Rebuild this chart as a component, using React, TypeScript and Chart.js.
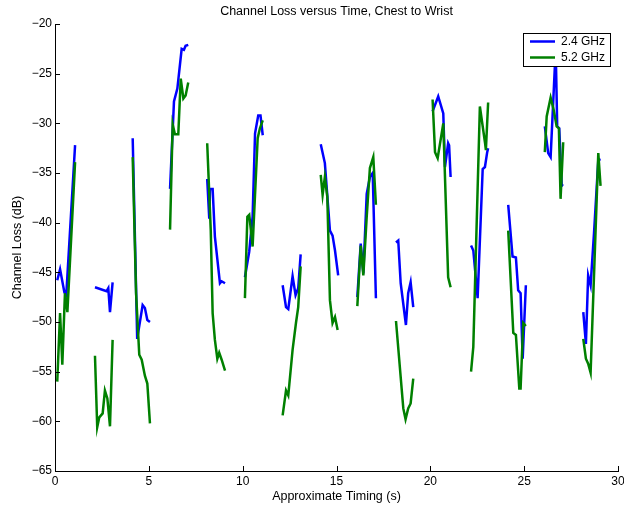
import React, { useEffect, useRef } from "react";
import { Chart, registerables } from "chart.js";

Chart.register(...registerables);

const chartTitle = "Channel Loss versus Time, Chest to Wrist";
const xLabel = "Approximate Timing (s)";
const yLabel = "Channel Loss (dB)";
const seriesNames = ["2.4 GHz", "5.2 GHz"];
const seriesColors = ["#0000ff", "#008000"];

const xTickValues = [0, 5, 10, 15, 20, 25, 30];
const yTickValues = [-65, -60, -55, -50, -45, -40, -35, -30, -25, -20];

// 2.4 GHz bursts (null separates measurement bursts)
const time24 = [
  0.12, 0.27, 0.5, 0.6, 1.07, null,
  2.13, 2.75, 2.84, 2.93, 3.07, null,
  4.14, 4.38, 4.67, 4.79, 4.92, 5.06, null,
  6.13, 6.34, 6.52, 6.75, 6.87, 6.96, 7.1, null,
  8.11, 8.22, 8.26, 8.4, 8.52, 8.79, 8.88, 9.06, null,
  10.12, 10.35, 10.53, 10.66, 10.83, 10.95, 11.07, null,
  12.13, 12.31, 12.43, 12.66, 12.82, 12.96, 13.09, null,
  14.16, 14.38, 14.65, 14.79, 14.92, 15.09, null,
  16.11, 16.29, 16.43, 16.61, 16.78, 16.93, 17.1, null,
  18.17, 18.29, 18.42, 18.7, 18.82, 18.95, 19.09, null,
  20.12, 20.42, 20.69, 20.78, 20.95, 21.0, 21.08, null,
  22.17, 22.29, 22.52, 22.79, 22.91, 23.03, 23.08, null,
  24.15, 24.38, 24.56, 24.68, 24.81, 24.92, 25.09, null,
  26.1, 26.28, 26.41, 26.68, 26.76, 26.87, 27.0, 27.08, null,
  28.15, 28.29, 28.41, 28.54, 28.72, 28.95, 29.07,
];
const loss24 = [
  -45.8, -44.7, -47.0, -47.3, -32.2, null,
  -46.5, -46.9, -46.6, -49.0, -46.0, null,
  -31.5, -51.7, -48.3, -48.6, -49.8, -50.0, null,
  -36.6, -27.8, -26.5, -22.5, -22.6, -22.2, -22.1, null,
  -35.6, -39.6, -36.6, -36.6, -41.4, -46.1, -45.9, -46.1, null,
  -45.5, -42.9, -39.4, -31.0, -29.2, -29.2, -31.2, null,
  -46.3, -48.5, -48.7, -45.4, -47.3, -46.6, -43.2, null,
  -32.1, -34.0, -40.8, -41.3, -42.8, -45.3, null,
  -47.5, -42.1, -45.1, -37.1, -35.4, -35.0, -47.6, null,
  -42.0, -41.8, -46.1, -50.3, -47.1, -46.0, -48.5, null,
  -28.8, -27.3, -29.0, -34.4, -32.0, -32.2, -35.4, null,
  -42.3, -42.8, -47.6, -34.6, -34.4, -32.9, -32.5, null,
  -38.2, -43.4, -43.5, -46.8, -47.1, -53.7, -46.3, null,
  -30.3, -33.0, -33.4, -22.5, -30.3, -30.5, -36.2, -36.3, null,
  -49.0, -52.2, -45.3, -46.3, -41.1, -33.7, -33.6,
];

// 5.2 GHz bursts
const time52 = [
  0.12, 0.27, 0.39, 0.53, 0.66, 1.07, null,
  2.13, 2.25, 2.36, 2.54, 2.66, 2.79, 2.93, 3.07, null,
  4.14, 4.32, 4.49, 4.62, 4.79, 4.92, 5.06, null,
  6.13, 6.27, 6.39, 6.57, 6.7, 6.84, 6.96, 7.1, null,
  8.11, 8.3, 8.4, 8.52, 8.65, 8.75, 8.88, 9.06, null,
  10.12, 10.25, 10.35, 10.53, 10.8, 10.92, 11.07, null,
  12.13, 12.31, 12.43, 12.66, 12.84, 12.96, 13.09, null,
  14.16, 14.26, 14.38, 14.51, 14.65, 14.79, 14.92, 15.06, null,
  16.11, 16.29, 16.43, 16.61, 16.78, 16.96, 17.1, null,
  18.17, 18.56, 18.68, 18.82, 18.95, 19.09, null,
  20.12, 20.25, 20.39, 20.69, 20.95, 21.08, null,
  22.17, 22.29, 22.64, 22.91, 22.96, 23.08, null,
  24.15, 24.42, 24.56, 24.74, 24.81, 24.95, 25.09, null,
  26.1, 26.2, 26.41, 26.58, 26.73, 26.85, 26.94, 27.08, null,
  28.15, 28.29, 28.41, 28.54, 28.95, 29.07,
];
const loss52 = [
  -56.0, -49.1, -54.3, -47.1, -49.0, -33.9, null,
  -53.4, -60.6, -59.6, -59.2, -56.9, -57.7, -60.5, -51.8, null,
  -33.4, -47.1, -53.3, -53.8, -55.4, -56.2, -60.2, null,
  -40.7, -30.1, -31.1, -31.1, -25.5, -27.5, -27.2, -25.9, null,
  -32.0, -40.8, -49.1, -51.8, -53.7, -53.1, -53.8, -54.9, null,
  -47.6, -39.4, -39.2, -42.4, -31.5, -30.5, -29.7, null,
  -59.4, -56.9, -57.4, -52.8, -50.1, -48.5, -44.4, null,
  -35.2, -37.2, -35.4, -37.4, -47.8, -50.1, -49.5, -50.8, null,
  -48.4, -42.3, -45.3, -39.4, -34.5, -33.4, -38.2, null,
  -49.9, -58.7, -59.8, -58.7, -58.2, -55.7, null,
  -27.6, -32.9, -33.5, -30.0, -45.5, -46.5, null,
  -55.0, -52.5, -28.3, -31.9, -32.7, -27.9, null,
  -40.8, -51.1, -51.3, -56.7, -56.7, -50.1, -50.4, null,
  -32.9, -29.3, -27.4, -28.7, -30.3, -30.5, -37.6, -31.9, null,
  -51.7, -53.7, -54.2, -55.1, -33.0, -36.3,
];

const FONT = "'Liberation Sans', Arial, Helvetica, sans-serif";

function toPoints(ts: (number | null)[], vs: (number | null)[]) {
  return ts.map((t, i) =>
    t === null ? { x: ts[i - 1] as number, y: null } : { x: t, y: vs[i] }
  );
}

const minusFmt = (v: number) => (v < 0 ? "\u2212" + Math.abs(v) : String(v));

const axesTitle = {
  id: "axesTitle",
  afterDraw(chart: any) {
    const { ctx, chartArea } = chart;
    ctx.save();
    ctx.font = `12.5px ${FONT}`;
    ctx.fillStyle = "#000";
    ctx.textAlign = "center";
    ctx.textBaseline = "middle";
    ctx.fillText(chartTitle, (chartArea.left + chartArea.right) / 2, chartArea.top - 12);
    ctx.restore();
  },
};

const inwardTicks = {
  id: "inwardTicks",
  afterDraw(chart: any) {
    const { ctx, chartArea, scales } = chart;
    ctx.save();
    ctx.strokeStyle = "#000";
    ctx.lineWidth = 1;
    ctx.beginPath();
    for (const t of scales.x.ticks) {
      const px = Math.round(scales.x.getPixelForValue(t.value)) + 0.5;
      ctx.moveTo(px, chartArea.bottom);
      ctx.lineTo(px, chartArea.bottom - 5);
    }
    for (const t of scales.y.ticks) {
      const py = Math.round(scales.y.getPixelForValue(t.value)) + 0.5;
      ctx.moveTo(chartArea.left, py);
      ctx.lineTo(chartArea.left + 5, py);
    }
    ctx.stroke();
    ctx.restore();
  },
};

const boxLegend = {
  id: "boxLegend",
  afterDraw(chart: any) {
    const { ctx, chartArea } = chart;
    const w = 87, h = 33;
    const x0 = chartArea.right - 8 - w;
    const y0 = chartArea.top + 9;
    ctx.save();
    ctx.fillStyle = "#fff";
    ctx.fillRect(x0, y0, w, h);
    ctx.strokeStyle = "#000";
    ctx.lineWidth = 1;
    ctx.strokeRect(Math.round(x0) + 0.5, Math.round(y0) + 0.5, w, h);
    ctx.font = `12px ${FONT}`;
    ctx.textBaseline = "middle";
    ctx.textAlign = "left";
    seriesNames.forEach((name, i) => {
      const y = y0 + 8.5 + i * 16;
      ctx.strokeStyle = seriesColors[i];
      ctx.lineWidth = 2.5;
      ctx.beginPath();
      ctx.moveTo(x0 + 7, y);
      ctx.lineTo(x0 + 32, y);
      ctx.stroke();
      ctx.fillStyle = "#000";
      ctx.fillText(name, x0 + 38, y + 0.5);
    });
    ctx.restore();
  },
};

export default function App() {
  const ref = useRef<HTMLCanvasElement>(null);
  useEffect(() => {
    if (!ref.current) return;
    const chart = new Chart(ref.current, {
      type: "line",
      data: {
        datasets: [
          {
            label: seriesNames[0],
            data: toPoints(time24, loss24) as any,
            borderColor: seriesColors[0],
            backgroundColor: seriesColors[0],
            borderWidth: 2.5,
            pointRadius: 0,
            tension: 0,
            spanGaps: false,
            order: 1,
          },
          {
            label: seriesNames[1],
            data: toPoints(time52, loss52) as any,
            borderColor: seriesColors[1],
            backgroundColor: seriesColors[1],
            borderWidth: 2.5,
            pointRadius: 0,
            tension: 0,
            spanGaps: false,
            order: 0,
          },
        ],
      },
      options: {
        responsive: false,
        animation: false,
        events: [],
        layout: { padding: { left: 0, right: 6, top: 24, bottom: 0 } },
        plugins: {
          legend: { display: false },
          tooltip: { enabled: false },
          title: { display: false },
        },
        scales: {
          x: {
            type: "linear",
            min: 0,
            max: 30,
            afterBuildTicks: (s: any) => {
              s.ticks = xTickValues.map((v) => ({ value: v }));
            },
            afterFit: (s: any) => {
              s.height = 35;
              s.paddingLeft = 0;
              s.paddingRight = 0;
            },
            grid: { display: false, drawTicks: false },
            border: { display: true, color: "#000", width: 1 },
            ticks: {
              color: "#000",
              font: { family: FONT, size: 12 },
              padding: 3,
              maxRotation: 0,
              autoSkip: false,
            },
            title: {
              display: true,
              text: xLabel,
              color: "#000",
              font: { family: FONT, size: 12.5 },
              padding: { top: 0, bottom: 2 },
            },
          },
          y: {
            type: "linear",
            min: -65,
            max: -20,
            afterBuildTicks: (s: any) => {
              s.ticks = yTickValues.map((v) => ({ value: v }));
            },
            afterFit: (s: any) => {
              s.width = 55;
              s.paddingTop = 0;
              s.paddingBottom = 0;
            },
            grid: { display: false, drawTicks: false },
            border: { display: true, color: "#000", width: 1 },
            ticks: {
              color: "#000",
              font: { family: FONT, size: 12 },
              padding: 3,
              autoSkip: false,
              callback: (v: any) => minusFmt(Number(v)),
            },
            title: {
              display: true,
              text: yLabel,
              color: "#000",
              font: { family: FONT, size: 12.5 },
              padding: { top: 10, bottom: 0 },
            },
          },
        },
      },
      plugins: [axesTitle, inwardTicks, boxLegend],
    });
    return () => chart.destroy();
  }, []);
  return (
    <div style={{ position: "absolute", left: 0, top: 0, width: 624, height: 506, background: "#fff" }}>
      <canvas ref={ref} width={624} height={506} style={{ display: "block" }} />
    </div>
  );
}
